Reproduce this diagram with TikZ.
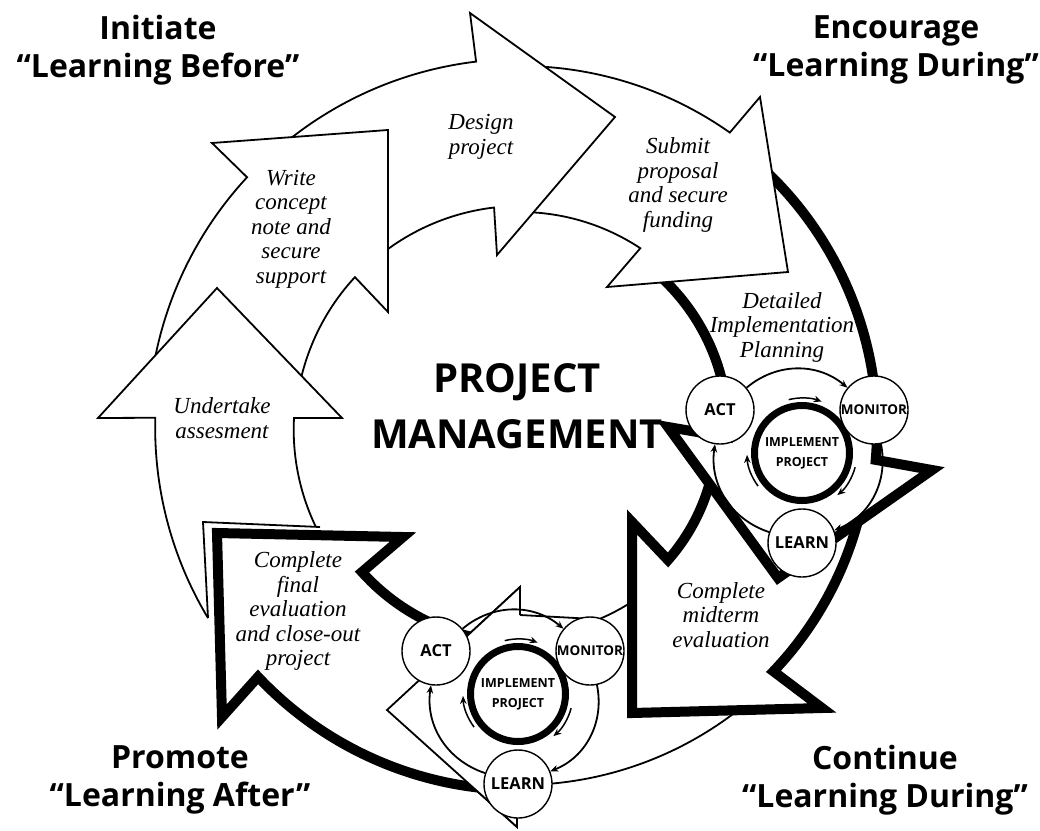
\documentclass[tikz,border=0pt]{standalone}
\usepackage{fontspec}
\newfontfamily\headfont{Open Sans}
\newfontfamily\phasefont{Liberation Serif}
\usetikzlibrary{arrows.meta}

% one act/monitor/learn cycle round an implement ring
\newcommand\pdcacycle[2]{%
    \node[impl] (imp#1) at (#2) {IMPLEMENT\\PROJECT};
    \node[stage] (act#1) at ([shift={(-82,-43)}]imp#1) {ACT};
    \node[stage, font=\headfont\bfseries\fontsize{13.5}{14}\selectfont] (mon#1) at ([shift={(72,-43)}]imp#1) {MONITOR};
    \node[stage] (lrn#1) at ([shift={(0,90)}]imp#1) {LEARN};
    \path [->] (act#1) edge [cyc, bend left=40] (mon#1);
    \path [->] (mon#1) edge [cyc, bend left=40] (lrn#1);
    \path [->] (lrn#1) edge [cyc, bend left=40] (act#1);
    \foreach \a in {256,15,143}
        \draw [->, spin] ([shift={(\a:55)}]imp#1) arc[start angle=\a, delta angle=35, radius=55];
}

\begin{document}
\begin{tikzpicture}[x=1pt, y=-1pt,
    >={Stealth[black, length=8pt, width=6.5pt]},
    thinarrow/.style={draw=black, fill=white, line width=1.8pt},
    thickarrow/.style={draw=black, fill=white, line width=10pt},
    heading/.style={align=center, font=\headfont\bfseries\fontsize{32}{38}\selectfont},
    phase/.style={align=center, font=\phasefont\itshape\fontsize{23}{24.5}\selectfont},
    stage/.style={circle, draw, fill=white, line width=1.4pt, minimum size=68pt, inner sep=0pt,
                  font=\headfont\bfseries\fontsize{16.5}{17}\selectfont},
    impl/.style={circle, draw, fill=white, line width=7pt, minimum size=95pt, inner sep=0pt,
                 align=center, font=\headfont\bfseries\fontsize{12.5}{20}\selectfont},
    cyc/.style={line width=1.8pt},
    spin/.style={line width=1.5pt}]
\useasboundingbox (0,0) rectangle (1040,830);

% the ring of arrows, drawn so each head lies on the next tail
\begin{scope}[shift={(520,430)}]
    \filldraw [thinarrow] (45:355) arc[start angle=45, end angle=85, radius=355] -- (-3,370) -- (-3,397)
        -- (-133,280) -- (0,157) -- (0,185) -- (67.4:205) arc[start angle=67.4, end angle=45, radius=205];
    \filldraw [thickarrow] (8:350) arc[start angle=8, end angle=43.6, radius=350] -- (302,278) -- (112,283)
        -- (112,92) -- (148,130) arc[start angle=41.3, end angle=8, radius=197];
    \filldraw [thickarrow] (310:357) arc[start angle=310, end angle=364.8, radius=357] -- (412,40) -- (258,148)
        -- (148,-3) -- (2:208) arc[start angle=2, end angle=-50, radius=208];
    \filldraw [thinarrow] (266:364) arc[start angle=266, end angle=305.2, radius=364] -- (240,-333) -- (268,-158)
        -- (87,-143) -- (303.5:218) arc[start angle=303.5, end angle=268, radius=218];
    \filldraw [thinarrow] (229:371) arc[start angle=229, end angle=263.2, radius=371] -- (-50,-417) -- (95,-313)
        -- (-23,-175) -- (263.35:224) arc[start angle=263.35, end angle=229, radius=224];
    \filldraw [thinarrow] (186:372) arc[start angle=186, end angle=222.8, radius=372] -- (-308,-287) -- (-132,-300)
        -- (-132,-118) -- (222.8:225) arc[start angle=222.8, end angle=186, radius=225];
    \filldraw [thinarrow] (-312,188) arc[start angle=149, end angle=181.5, radius=370] -- (-422,-12) -- (-303,-142)
        -- (-178,-12) -- (-226,-12) arc[start angle=183, end angle=154, radius=224];
    \filldraw [thinarrow] (-200,97) -- (-317,92) -- (-312,188);
    \filldraw [thickarrow] (95:360) arc[start angle=95, end angle=136.7, radius=360] -- (-298,287) -- (-303,103)
        -- (-117,107) -- (-158,142) arc[start angle=138.1, end angle=100, radius=212];
    \filldraw [thinarrow] (0,185) -- (0,157) -- (-133,280) -- (-3,397) -- (-3,370);
\end{scope}

% texts
\node[heading] (before) at (158,50) {Initiate\\“Learning Before”};
\node[heading] (during) at (896,50) {Encourage\\“Learning During”};
\node[heading] (after) at (180,780) {Promote\\“Learning After”};
\node[heading] (contd) at (885,780) {Continue\\“Learning During”};
\node[heading, font=\headfont\bfseries\fontsize{40}{56}\selectfont] (pm) at (517,406) {PROJECT\\MANAGEMENT};

\node[phase] (assess) at (222,418) {Undertake\\assesment};
\node[phase] (concept) at (291,229) {Write\\concept\\note and\\secure\\support};
\node[phase] (design) at (481,137) {Design\\project};
\node[phase] (submit) at (678,185) {Submit\\proposal\\and secure\\funding};
\node[phase] (plan) at (782,327) {Detailed\\Implementation\\Planning};
\node[phase] (midterm) at (721,615) {Complete\\midterm\\evaluation};
\node[phase] (final) at (298,611) {Complete\\final\\evaluation\\and close-out\\project};

% the two small cycles
\pdcacycle{1}{802,453}
\pdcacycle{2}{518,694}
\end{tikzpicture}
\end{document}
